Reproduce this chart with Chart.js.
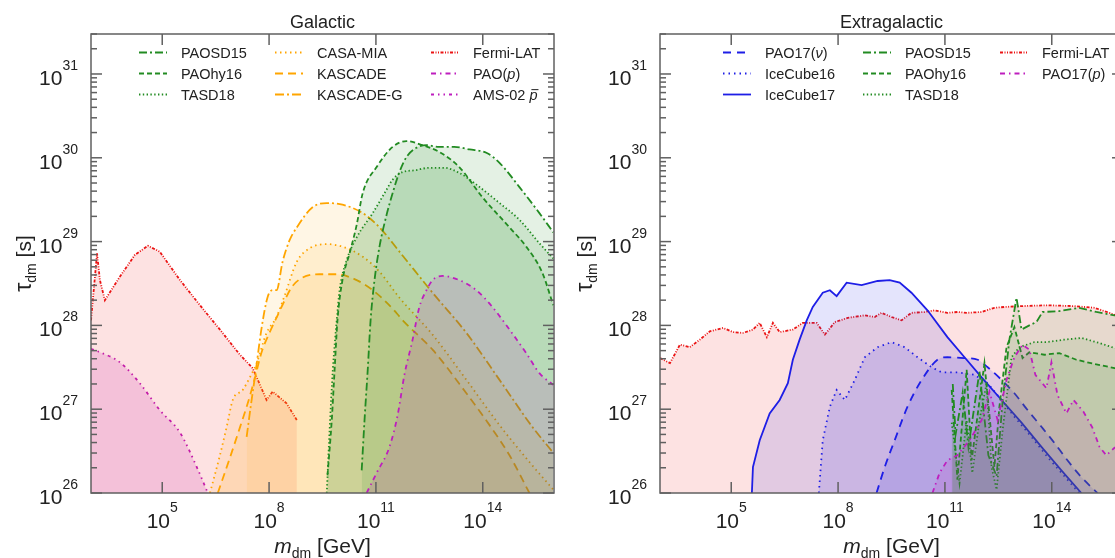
<!DOCTYPE html>
<html>
<head>
<meta charset="utf-8">
<script src="https://cdn.jsdelivr.net/npm/chart.js@4/dist/chart.umd.min.js"></script>
<style>
  html, body { margin: 0; padding: 0; background: #fff; overflow: hidden; width: 1115px; height: 558px; }
  canvas { position: absolute; top: 0; }
  #galactic { left: 0; }
  #extragalactic { left: 560px; }
</style>
</head>
<body>
<canvas id="galactic" width="560" height="558"></canvas>
<canvas id="extragalactic" width="600" height="558"></canvas>
<script>
'use strict';

// axis ranges and tick exponents (log10 of m_dm [GeV] and tau_dm [s])
var massMin = 1e3, massMax = 1e16;
var tauMin = 1e26, tauMax = 3e31;
var xTickExp = [5, 8, 11, 14];
var yTickExp = [26, 27, 28, 29, 30, 31];

// ---- Galactic panel: log10(m) / log10(tau) ----
var galFermiM = [3.00, 3.17, 3.25, 3.39, 3.81, 4.23, 4.60, 4.93, 5.50, 6.06, 6.62, 7.18, 7.54, 7.93, 8.10, 8.49, 8.78];
var galFermiT = [28.06, 28.86, 28.54, 28.30, 28.58, 28.84, 28.95, 28.88, 28.54, 28.24, 27.95, 27.65, 27.49, 27.11, 27.21, 27.07, 26.87];

var galAmsM = [3.00, 3.25, 3.81, 4.37, 4.93, 5.50, 5.97, 6.28];
var galAmsT = [27.72, 27.68, 27.56, 27.31, 26.99, 26.72, 26.31, 26.00];

var galCasaM = [6.34, 6.62, 6.81, 6.98, 7.26, 7.46, 7.65, 7.93, 8.21, 8.44, 8.78, 9.14, 9.62, 10.06, 10.63, 11.10, 11.66, 12.59, 13.54, 14.47, 15.31, 15.98];
var galCasaT = [26.00, 26.45, 26.79, 27.11, 27.23, 27.38, 27.55, 27.91, 28.10, 28.36, 28.76, 28.92, 28.97, 28.94, 28.82, 28.64, 28.33, 27.89, 27.35, 26.81, 26.37, 26.04];

var galKascM = [6.56, 6.90, 7.18, 7.40, 7.60, 7.79, 8.02, 8.24, 8.44, 8.64, 8.94, 9.42, 9.90, 10.46, 10.91, 11.38, 11.80, 12.59, 13.54, 14.19, 14.75, 15.31];
var galKascT = [26.00, 26.42, 26.78, 27.07, 27.37, 27.68, 27.92, 28.12, 28.30, 28.46, 28.57, 28.61, 28.61, 28.54, 28.42, 28.24, 28.04, 27.71, 27.19, 26.81, 26.45, 26.00];

var galKascGM = [7.37, 7.49, 7.63, 7.79, 7.96, 8.10, 8.21, 8.38, 8.58, 8.78, 9.22, 9.62, 10.06, 10.63, 11.10, 11.66, 12.59, 13.54, 14.47, 15.39, 15.98];
var galKascGT = [26.67, 27.05, 27.47, 27.97, 28.34, 28.42, 28.42, 28.76, 29.02, 29.17, 29.41, 29.46, 29.44, 29.34, 29.17, 28.88, 28.39, 27.91, 27.35, 26.79, 26.48];

var galSd15M = [10.60, 10.68, 10.77, 10.85, 10.96, 11.10, 11.30, 11.47, 11.66, 11.86, 12.14, 12.42, 12.78, 13.20, 13.63, 14.10, 14.47, 15.03, 15.59, 15.98];
var galSd15T = [26.27, 26.87, 27.47, 28.06, 28.54, 28.94, 29.32, 29.58, 29.83, 30.01, 30.12, 30.15, 30.13, 30.13, 30.10, 30.06, 29.94, 29.65, 29.34, 29.11];

var galHy16M = [9.64, 9.76, 9.84, 9.92, 10.06, 10.26, 10.46, 10.63, 11.02, 11.47, 11.86, 12.31, 12.78, 13.34, 13.99, 14.75, 15.22, 15.67, 15.98];
var galHy16T = [26.21, 26.87, 27.47, 28.06, 28.54, 28.86, 29.20, 29.58, 29.89, 30.13, 30.20, 30.15, 30.07, 29.89, 29.53, 29.17, 28.94, 28.63, 28.24];

var galTa18M = [9.62, 9.70, 9.79, 9.90, 9.98, 10.18, 10.46, 10.91, 11.30, 11.47, 11.75, 12.08, 12.50, 12.92, 13.34, 13.82, 14.47, 15.03, 15.59, 15.98];
var galTa18T = [26.00, 26.75, 27.47, 28.06, 28.42, 28.78, 29.05, 29.34, 29.62, 29.74, 29.83, 29.85, 29.88, 29.88, 29.82, 29.68, 29.46, 29.26, 28.98, 28.80];

var galPaoPM = [10.74, 11.02, 11.38, 11.61, 11.80, 12.03, 12.22, 12.42, 12.59, 12.87, 13.34, 13.82, 14.27, 14.75, 15.22, 15.59, 15.98];
var galPaoPT = [26.00, 26.24, 26.55, 26.93, 27.41, 27.83, 28.22, 28.42, 28.54, 28.59, 28.54, 28.42, 28.22, 27.95, 27.67, 27.43, 27.29];

// ---- Extragalactic panel ----
var exFermiM = [3.00, 3.28, 3.56, 3.84, 4.12, 4.40, 4.77, 5.05, 5.33, 5.61, 5.80, 6.00, 6.17, 6.36, 6.73, 7.01, 7.40, 7.63, 7.91, 8.27, 8.75, 9.03, 9.22, 9.50, 9.78, 10.06, 10.43, 10.71, 11.07, 11.35, 11.63, 12.03, 12.39, 12.67, 13.15, 13.88, 14.63, 15.20, 15.62, 15.98];
var exFermiT = [27.61, 27.55, 27.77, 27.74, 27.83, 27.93, 27.97, 27.92, 27.91, 27.95, 28.03, 27.86, 28.03, 27.92, 27.95, 28.03, 28.03, 27.89, 28.04, 28.09, 28.12, 28.10, 28.15, 28.10, 28.06, 28.15, 28.16, 28.18, 28.15, 28.16, 28.15, 28.16, 28.21, 28.22, 28.23, 28.24, 28.23, 28.21, 28.15, 28.09];

var exIc17M = [5.58, 5.61, 5.80, 6.08, 6.36, 6.59, 6.73, 6.92, 7.12, 7.29, 7.57, 7.77, 7.96, 8.24, 8.66, 9.11, 9.45, 9.73, 10.06, 10.51, 11.07, 11.55, 12.03, 12.59, 13.15, 13.71, 14.27, 14.83];
var exIc17T = [26.00, 26.31, 26.63, 26.95, 27.11, 27.31, 27.59, 27.83, 28.06, 28.22, 28.39, 28.42, 28.35, 28.51, 28.48, 28.53, 28.54, 28.51, 28.39, 28.18, 27.86, 27.62, 27.38, 27.11, 26.84, 26.55, 26.27, 26.00];

var exIc16M = [7.46, 7.57, 7.77, 7.96, 8.19, 8.47, 8.75, 9.11, 9.50, 9.87, 10.23, 10.63, 10.91, 11.35, 11.83, 12.20, 12.59, 12.95, 13.43, 13.88, 14.44, 14.77];
var exIc16T = [26.00, 26.63, 27.03, 27.23, 27.11, 27.35, 27.62, 27.74, 27.80, 27.74, 27.62, 27.50, 27.44, 27.44, 27.41, 27.31, 27.11, 26.91, 26.67, 26.43, 26.16, 26.00];

var exPaoNuM = [9.08, 9.31, 9.59, 9.95, 10.35, 10.79, 11.07, 11.55, 11.92, 12.20, 12.59, 12.95, 13.32, 13.71, 14.07, 14.44, 14.83, 15.28];
var exPaoNuT = [26.00, 26.31, 26.63, 27.03, 27.35, 27.59, 27.62, 27.61, 27.59, 27.50, 27.35, 27.19, 26.99, 26.79, 26.60, 26.39, 26.19, 26.00];

var exSd15M = [11.22, 11.30, 11.50, 11.66, 11.97, 12.22, 12.45, 12.62, 12.81, 13.01, 13.15, 13.37, 13.57, 13.74, 14.21, 14.77, 15.25, 15.76, 15.98];
var exSd15T = [27.30, 26.70, 27.20, 26.55, 27.45, 26.45, 26.20, 27.10, 27.83, 28.33, 27.95, 28.00, 28.04, 28.16, 28.17, 28.21, 28.16, 28.12, 28.11];

var exHy16M = [11.19, 11.35, 11.61, 11.75, 12.11, 12.39, 12.53, 12.73, 12.95, 13.18, 13.37, 13.79, 14.21, 14.69, 15.20, 15.76, 15.98];
var exHy16T = [27.23, 26.16, 27.47, 26.39, 27.55, 26.31, 27.03, 27.74, 27.98, 27.61, 27.68, 27.65, 27.67, 27.59, 27.54, 27.49, 27.47];

var exTa18M = [11.19, 11.41, 11.61, 11.77, 11.97, 12.17, 12.31, 12.45, 12.62, 12.87, 13.09, 13.51, 13.85, 14.35, 14.83, 15.34, 15.76, 15.98];
var exTa18T = [26.84, 26.12, 26.87, 26.24, 26.87, 27.31, 26.31, 26.04, 26.75, 27.62, 27.74, 27.80, 27.80, 27.83, 27.85, 27.79, 27.73, 27.71];

var exPaoPM = [10.65, 10.85, 11.07, 11.35, 11.69, 12.03, 12.25, 12.48, 12.73, 12.95, 13.18, 13.37, 13.54, 13.85, 13.99, 14.16, 14.41, 14.61, 14.89, 15.14, 15.34, 15.53, 15.76, 15.98];
var exPaoPT = [26.00, 26.24, 26.39, 26.45, 26.63, 26.87, 27.21, 26.87, 27.35, 27.62, 27.77, 27.71, 27.41, 27.25, 27.56, 27.17, 26.95, 27.11, 26.97, 26.78, 26.55, 26.45, 26.54, 26.57];

var GREEN = [34, 139, 34], ORANGE = [255, 165, 0], RED = [235, 20, 20], MAGENTA = [190, 30, 190], BLUE = [30, 30, 230];
var FONT = '"Liberation Sans", Arial, sans-serif';

function rgba(c, a) { return 'rgba(' + c[0] + ',' + c[1] + ',' + c[2] + ',' + a + ')'; }

function pts(ms, ts) {
    return ms.map(function (m, i) { return { x: Math.pow(10, m), y: Math.pow(10, ts[i]) }; });
}

function curve(label, ms, ts, color, alpha, dash, col, row, smooth) {
    return {
        label: label,
        data: pts(ms, ts),
        borderColor: rgba(color, 1),
        backgroundColor: rgba(color, alpha),
        borderWidth: 1.8,
        borderDash: dash,
        fill: 'start',
        pointRadius: 0,
        tension: 0,
        cubicInterpolationMode: smooth ? 'monotone' : 'default',
        legendCol: col,
        legendRow: row
    };
}

var DASHDOT = [8, 3, 2, 3], DASHED = [5, 3], DOTTED = [1.4, 2.4];

var galacticSets = [
    curve('PAO(*p*)', galPaoPM, galPaoPT, MAGENTA, 0.15, [5, 4, 1.5, 4], 2, 1, true),
    curve('PAOSD15', galSd15M, galSd15T, GREEN, 0.12, DASHDOT, 0, 0, true),
    curve('PAOhy16', galHy16M, galHy16T, GREEN, 0.12, DASHED, 0, 1, true),
    curve('TASD18', galTa18M, galTa18T, GREEN, 0.12, DOTTED, 0, 2, true),
    curve('KASCADE-G', galKascGM, galKascGT, ORANGE, 0.1, [9, 3, 2, 3], 1, 2, true),
    curve('KASCADE', galKascM, galKascT, ORANGE, 0.1, [8, 5], 1, 1, true),
    curve('CASA-MIA', galCasaM, galCasaT, ORANGE, 0.1, [1.5, 3.5], 1, 0, true),
    curve('Fermi-LAT', galFermiM, galFermiT, RED, 0.12, [3, 1.5, 1, 1.5, 1, 1.5], 2, 0, false),
    curve('AMS-02 *p\u0304*', galAmsM, galAmsT, MAGENTA, 0.17, [3, 4, 1.5, 4, 1.5, 4], 2, 2, true)
];

var extraSets = [
    curve('PAO17(*p*)', exPaoPM, exPaoPT, MAGENTA, 0.13, [5, 4, 1.5, 4], 2, 1, false),
    curve('PAOSD15', exSd15M, exSd15T, GREEN, 0.1, DASHDOT, 1, 0, false),
    curve('PAOhy16', exHy16M, exHy16T, GREEN, 0.1, DASHED, 1, 1, false),
    curve('TASD18', exTa18M, exTa18T, GREEN, 0.1, DOTTED, 1, 2, false),
    curve('PAO17(*\u03bd*)', exPaoNuM, exPaoNuT, BLUE, 0.12, [8, 6], 0, 0, true),
    curve('IceCube16', exIc16M, exIc16T, BLUE, 0.12, [1.5, 4], 0, 1, false),
    curve('IceCube17', exIc17M, exIc17T, BLUE, 0.12, [], 0, 2, false),
    curve('Fermi-LAT', exFermiM, exFermiT, RED, 0.12, [3, 1.5, 1, 1.5, 1, 1.5], 2, 0, false)
];

function setFont(ctx, s) {
    ctx.font = (s.italic ? 'italic ' : '') + s.size + 'px ' + FONT;
}

// draws a list of text pieces side by side on one baseline
function drawRich(ctx, segs, x, y, align) {
    var w = 0;
    segs.forEach(function (s) { setFont(ctx, s); s.w = ctx.measureText(s.t).width; w += s.w; });
    var cx = align === 'center' ? x - w / 2 : (align === 'right' ? x - w : x);
    segs.forEach(function (s) {
        setFont(ctx, s);
        ctx.fillText(s.t, cx, y + (s.dy || 0));
        if (s.bar) {
            ctx.beginPath();
            ctx.lineWidth = 1;
            ctx.moveTo(cx + 2, y - s.size * 0.68);
            ctx.lineTo(cx + s.w + 1, y - s.size * 0.68);
            ctx.stroke();
        }
        cx += s.w;
    });
}

function labelSegs(label, size) {
    return label.split('*').map(function (t, i) {
        var bar = t.indexOf('\u0304') >= 0;
        return { t: t.replace('\u0304', ''), size: size, italic: i % 2 === 1, bar: bar };
    }).filter(function (s) { return s.t.length; });
}

function powSegs(exp) {
    return [{ t: '10', size: 21 }, { t: String(exp), size: 14, dy: -15 }];
}

var panelFrame = {
    id: 'panelFrame',
    afterDatasetsDraw: function (chart, args, opts) {
        var ctx = chart.ctx, a = chart.chartArea, xs = chart.scales.x, ys = chart.scales.y;
        ctx.save();
        ctx.setLineDash([]);
        ctx.strokeStyle = '#606060';
        ctx.lineWidth = 1.5;
        ctx.strokeRect(a.left, a.top, a.right - a.left, a.bottom - a.top);

        function seg(x1, y1, x2, y2) { ctx.beginPath(); ctx.moveTo(x1, y1); ctx.lineTo(x2, y2); ctx.stroke(); }

        // y ticks, major + minor, on both sides
        yTickExp.forEach(function (e) {
            for (var k = 1; k <= 9; k++) {
                var v = k * Math.pow(10, e);
                if (v > tauMax * 1.0001) break;
                var py = ys.getPixelForValue(v);
                var len = k === 1 ? 11 : 6;
                seg(a.left, py, a.left + len, py);
                seg(a.right, py, a.right - len, py);
            }
        });
        // x ticks, top and bottom
        xTickExp.forEach(function (e) {
            var px = xs.getPixelForValue(Math.pow(10, e));
            seg(px, a.bottom, px, a.bottom - 11);
            seg(px, a.top, px, a.top + 11);
        });

        ctx.fillStyle = '#222';
        ctx.strokeStyle = '#222';
        ctx.textBaseline = 'alphabetic';
        ctx.textAlign = 'left';

        // tick labels
        yTickExp.forEach(function (e) {
            var py = ys.getPixelForValue(Math.pow(10, e));
            var s = powSegs(e);
            setFont(ctx, s[1]);
            var ew = ctx.measureText(s[1].t).width;
            ctx.fillText(s[1].t, a.left - 13 - ew, py - 4);
            setFont(ctx, s[0]);
            ctx.fillText(s[0].t, a.left - 13 - ew - ctx.measureText(s[0].t).width, py + 11);
        });
        xTickExp.forEach(function (e) {
            var px = xs.getPixelForValue(Math.pow(10, e));
            var s = powSegs(e);
            s[1].dy = -16;
            drawRich(ctx, s, px, a.bottom + 35, 'center');
        });

        // axis titles
        var cx = (a.left + a.right) / 2;
        drawRich(ctx, [{ t: 'm', size: 21, italic: true }, { t: 'dm', size: 14, dy: 5 }, { t: ' [GeV]', size: 21 }], cx, a.bottom + 60, 'center');
        ctx.save();
        ctx.translate(a.left - opts.yTitleOffset, (a.top + a.bottom) / 2);
        ctx.rotate(-Math.PI / 2);
        drawRich(ctx, [{ t: '\u03c4', size: 23 }, { t: 'dm', size: 14, dy: 5 }, { t: ' [s]', size: 21 }], 0, 0, 'center');
        ctx.restore();

        // panel title
        drawRich(ctx, [{ t: opts.title, size: 18 }], cx, a.top - 6, 'center');

        // legend, three columns
        chart.data.datasets.forEach(function (ds) {
            var tx = a.left + opts.legendX[ds.legendCol];
            var ty = a.top + 18.5 + ds.legendRow * 21;
            ctx.save();
            ctx.strokeStyle = ds.borderColor;
            ctx.lineWidth = 1.8;
            ctx.setLineDash(ds.borderDash);
            seg(tx - 42, ty, tx - 14, ty);
            ctx.restore();
            drawRich(ctx, labelSegs(ds.label, 14.5), tx, ty + 5, 'left');
        });
        ctx.restore();
    }
};

function makePanel(canvasId, title, datasets, pad, legendX, yTitleOffset) {
    return new Chart(document.getElementById(canvasId).getContext('2d'), {
        type: 'line',
        data: { datasets: datasets },
        options: {
            responsive: false,
            animation: false,
            layout: { padding: pad },
            scales: {
                x: { type: 'logarithmic', min: massMin, max: massMax, display: false },
                y: { type: 'logarithmic', min: tauMin, max: tauMax, display: false }
            },
            plugins: {
                legend: { display: false },
                tooltip: { enabled: false },
                panelFrame: { title: title, legendX: legendX, yTitleOffset: yTitleOffset }
            }
        },
        plugins: [panelFrame]
    });
}

makePanel('galactic', 'Galactic', galacticSets, { left: 91, right: 6, top: 34, bottom: 65 }, [90, 226, 382], 60);
makePanel('extragalactic', 'Extragalactic', extraSets, { left: 100, right: 37, top: 34, bottom: 65 }, [105, 245, 382], 68);
</script>
</body>
</html>
